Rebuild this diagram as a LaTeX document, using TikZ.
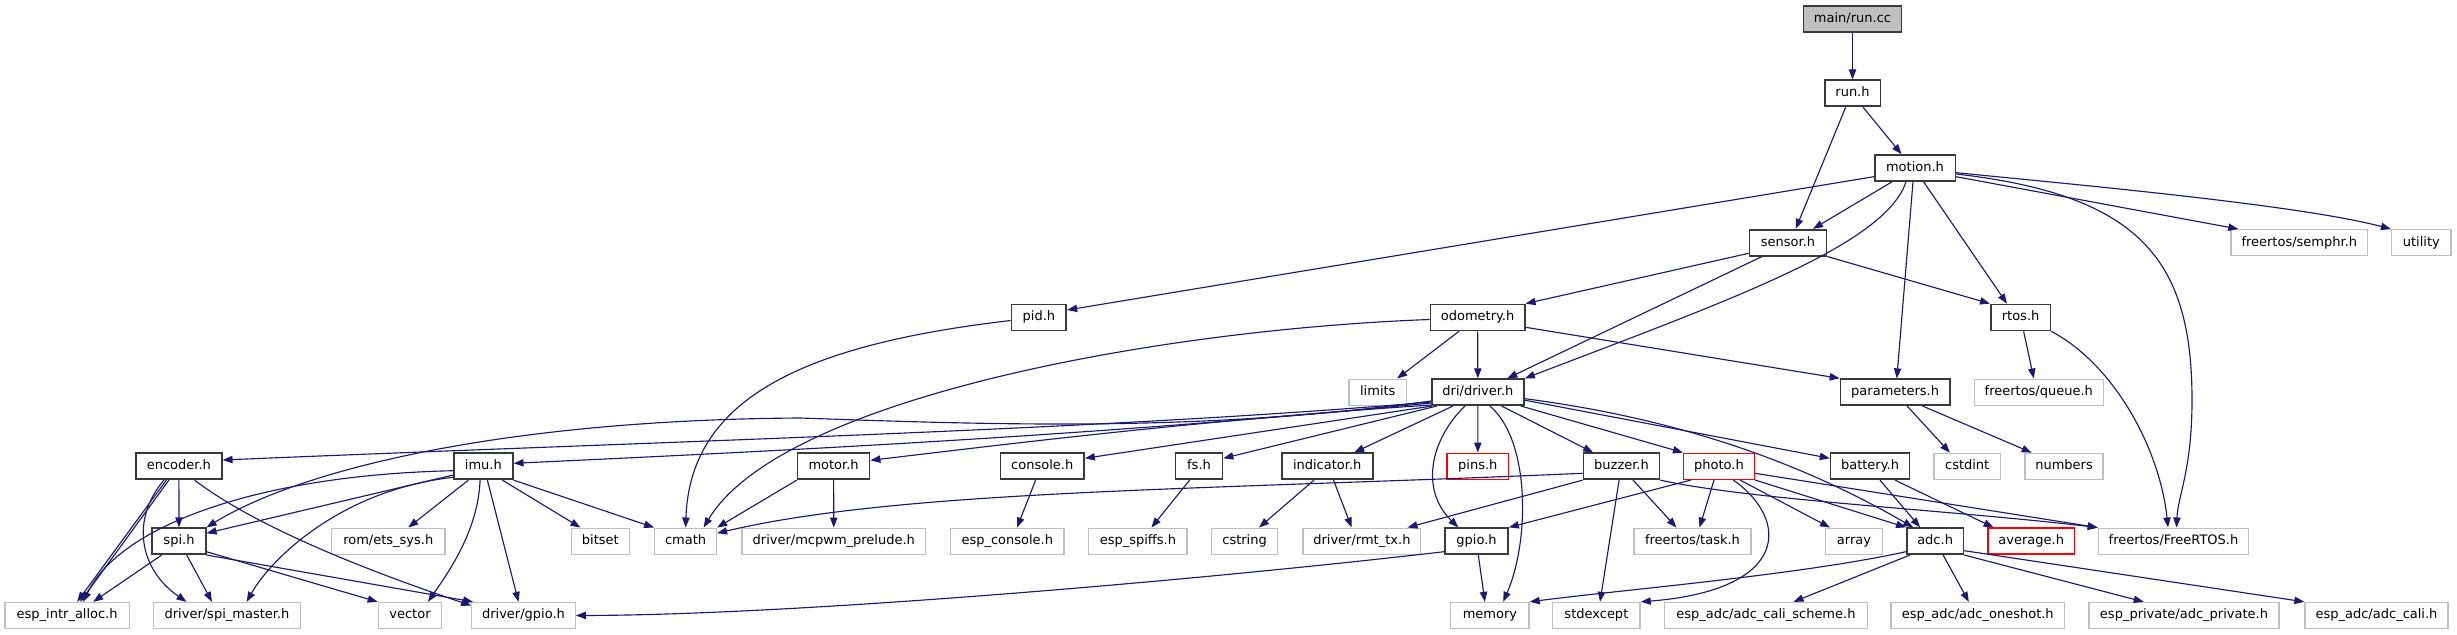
\documentclass[tikz,border=0pt]{standalone}
\usepackage{fontspec}
\setmainfont{DejaVu Sans}
\usetikzlibrary{arrows.meta,calc}
\definecolor{docc}{HTML}{3A3A3A}
\definecolor{extc}{HTML}{BFBFBF}
\definecolor{redc}{HTML}{FF0000}
\definecolor{topfill}{HTML}{BFBFBF}
\definecolor{edgec}{HTML}{191970}
\tikzset{
  nd/.style={draw, rectangle, inner sep=0pt, minimum height=19.5pt, text height=7.2pt, text depth=2.2pt, font=\fontsize{9.75}{11}\selectfont},
  doc/.style={nd, draw=docc, line width=1.25pt},
  ext/.style={nd, draw=extc, line width=1pt},
  miss/.style={nd, draw=redc, line width=1.1pt},
  topn/.style={doc, fill=topfill},
  bw/.style={minimum width=#1*0.75pt},
  ed/.style={draw=edgec, line width=0.85pt, -{Triangle[length=7.5pt,width=5.5pt]}},
}
\begin{document}
\begin{tikzpicture}[x=0.75pt,y=-0.75pt]
\useasboundingbox (0,0) rectangle (2457,635);
% rows
\def\ra{18.7}\def\rb{93.3}\def\rc{168}\def\rd{242.7}\def\re{317.5}\def\rf{392.2}\def\rg{466.3}\def\rh{541.2}\def\ri{615.5}
\node[topn,bw=98] (run) at (1852.5,\ra) {main/run.cc};
\node[doc,bw=55.7] (runh) at (1852.5,\rb) {run.h};
\node[doc,bw=80.7] (motion) at (1915,\rc) {motion.h};
\node[doc,bw=77] (sensor) at (1788,\rd) {sensor.h};
\node[ext,bw=136.6] (semphr) at (2299.3,\rd) {freertos/semphr.h};
\node[ext,bw=59.4] (utility) at (2421.3,\rd) {utility};
\node[doc,bw=54.8] (pid) at (1038.9,\re) {pid.h};
\node[doc,bw=94.2] (odom) at (1477.6,\re) {odometry.h};
\node[doc,bw=59.6] (rtos) at (2020.6,\re) {rtos.h};
\node[ext,bw=57.7] (limits) at (1377.8,\rf) {limits};
\node[doc,bw=92.3] (driver) at (1477.9,\rf) {dri/driver.h};
\node[doc,bw=109.2] (params) at (1895.1,\rf) {parameters.h};
\node[ext,bw=129] (queue) at (2038.8,\rf) {freertos/queue.h};
\node[doc,bw=85.7] (encoder) at (178.9,\rg) {encoder.h};
\node[doc,bw=58.7] (imu) at (483.4,\rg) {imu.h};
\node[doc,bw=72] (motor) at (833.6,\rg) {motor.h};
\node[doc,bw=83.7] (console) at (1042.2,\rg) {console.h};
\node[doc,bw=47] (fs) at (1199,\rg) {fs.h};
\node[doc,bw=91] (indicator) at (1327.2,\rg) {indicator.h};
\node[miss,bw=61.5] (pins) at (1477.8,\rg) {pins.h};
\node[doc,bw=76] (buzzer) at (1621.5,\rg) {buzzer.h};
\node[miss,bw=70.7] (photo) at (1719,\rg) {photo.h};
\node[doc,bw=78.8] (battery) at (1870,\rg) {battery.h};
\node[ext,bw=66.6] (cstdint) at (1967.2,\rg) {cstdint};
\node[ext,bw=78] (numbers) at (2064,\rg) {numbers};
\node[doc,bw=53.4] (spi) at (179,\rh) {spi.h};
\node[ext,bw=113.3] (ets) at (388.3,\rh) {rom/ets\_sys.h};
\node[ext,bw=57.6] (bitset) at (600.4,\rh) {bitset};
\node[ext,bw=61.7] (cmath) at (685.6,\rh) {cmath};
\node[ext,bw=183.5] (mcpwm) at (833.8,\rh) {driver/mcpwm\_prelude.h};
\node[ext,bw=113.4] (espconsole) at (1007.3,\rh) {esp\_console.h};
\node[ext,bw=98.3] (spiffs) at (1137.9,\rh) {esp\_spiffs.h};
\node[ext,bw=65.9] (cstring) at (1244.6,\rh) {cstring};
\node[ext,bw=117.8] (rmt) at (1361.9,\rh) {driver/rmt\_tx.h};
\node[doc,bw=63] (gpio) at (1476.5,\rh) {gpio.h};
\node[ext,bw=117] (task) at (1692.5,\rh) {freertos/task.h};
\node[ext,bw=56.6] (array) at (1854,\rh) {array};
\node[doc,bw=56.6] (adc) at (1935.1,\rh) {adc.h};
\node[miss,bw=86.3] (average) at (2031.2,\rh) {average.h};
\node[ext,bw=150.2] (freertos) at (2173.5,\rh) {freertos/FreeRTOS.h};
\node[ext,bw=124.3] (intr) at (67.2,\ri) {esp\_intr\_alloc.h};
\node[ext,bw=147.4] (spim) at (227,\ri) {driver/spi\_master.h};
\node[ext,bw=63.4] (vector) at (410,\ri) {vector};
\node[ext,bw=103.5] (dgpio) at (523.5,\ri) {driver/gpio.h};
\node[ext,bw=78.3] (memory) at (1489.9,\ri) {memory};
\node[ext,bw=87.3] (stdexcept) at (1596.4,\ri) {stdexcept};
\node[ext,bw=203] (calischeme) at (1765.9,\ri) {esp\_adc/adc\_cali\_scheme.h};
\node[ext,bw=173.5] (oneshot) at (1977.8,\ri) {esp\_adc/adc\_oneshot.h};
\node[ext,bw=190] (adcpriv) at (2184,\ri) {esp\_private/adc\_private.h};
\node[ext,bw=143] (adccali) at (2376.5,\ri) {esp\_adc/adc\_cali.h};
% edges: top part
\draw[ed] (run) -- (runh);
\draw[ed] ($(runh.south)+(-6.8,0)$) -- ($(sensor.north)+(7.7,0)$);
\draw[ed] ($(runh.south)+(10.5,0)$) -- ($(motion.north)+(-13.5,0)$);
\draw[ed] ($(motion.south)+(-23,0)$) -- ($(sensor.north)+(25,0)$);
\draw[ed] ($(motion.west)+(0,8.7)$) -- ($(pid.east)+(0,-7.5)$);
\draw[ed] ($(motion.south)+(-9,0)$) .. controls (1885,245) and (1730,300) .. (driver.north east);
\draw[ed] ($(motion.south)+(-2,0)$) -- ($(params.north)+(1.7,0)$);
\draw[ed] ($(motion.south)+(8.6,0)$) -- ($(rtos.north)+(-13.6,0)$);
\draw[ed] ($(motion.east)+(0,8.7)$) -- ($(semphr.north)+(-61,0)$);
\draw[ed] ($(motion.east)+(0,4.7)$) .. controls (2080,185) and (2300,205) .. (utility.north west);
\draw[ed] ($(motion.east)+(0,6)$) .. controls (2140,195) and (2192,260) .. (2192,400) .. controls (2192,470) and (2178,495) .. ($(freertos.north)+(3,0)$);
\draw[ed] ($(sensor.west)+(0,10.6)$) -- (odom.north east);
\draw[ed] ($(sensor.south)+(-26,0)$) -- ($(driver.north)+(29.4,0)$);
\draw[ed] (sensor.south east) -- (rtos.north west);
\draw[ed] ($(pid.west)+(0,3)$) .. controls (800,345) and (690,400) .. (cmath.north);
\draw[ed] ($(odom.west)+(0,2)$) .. controls (1150,330) and (780,400) .. ($(cmath.north)+(18,0)$);
\draw[ed] ($(odom.south)+(-18.6,0)$) -- ($(limits.north)+(19.3,0)$);
\draw[ed] (odom) -- (driver);
\draw[ed] ($(odom.east)+(0,9.8)$) -- (params.north west);
\draw[ed] ($(rtos.south)+(3,0)$) -- ($(queue.north)+(-5,0)$);
\draw[ed] (rtos.south east) .. controls (2115,365) and (2160,450) .. ($(freertos.north)+(-5.5,0)$);
\draw[ed] ($(params.south)+(12,0)$) -- ($(cstdint.north)+(-17.3,0)$);
\draw[ed] ($(params.south)+(27.4,0)$) -- ($(numbers.north)+(-32.3,0)$);
% driver fan-out
\draw[ed] ($(driver.south west)+(0,-4)$) .. controls (1100,430) and (700,440) .. ($(encoder.east)+(0,-6.3)$);
\draw[ed] ($(driver.south west)+(0,-3)$) .. controls (1100,435) and (800,450) .. ($(imu.east)+(0,-3)$);
\draw[ed] ($(driver.south west)+(0,-5)$) .. controls (1200,432) and (1000,425) .. (800,418) .. controls (500,420) and (300,470) .. (spi.north east);
\draw[ed] ($(driver.south west)+(0,-1)$) .. controls (1200,420) and (1000,445) .. ($(motor.east)+(0,-6)$);
\draw[ed] ($(driver.south west)+(1,0)$) -- ($(console.east)+(0,-8)$);
\draw[ed] ($(driver.south west)+(6,0)$) -- ($(fs.east)+(0,-8)$);
\draw[ed] ($(driver.south west)+(22,0)$) -- ($(indicator.north)+(27,0)$);
\draw[ed] ($(driver.south)+(-13,0)$) .. controls (1430,440) and (1420,490) .. ($(gpio.north)+(-18.2,0)$);
\draw[ed] (driver) -- (pins);
\draw[ed] ($(driver.south)+(12,0)$) .. controls (1530,440) and (1530,540) .. ($(memory.north)+(13.3,0)$);
\draw[ed] ($(driver.south)+(23.7,0)$) -- ($(buzzer.north)+(-28.4,0)$);
\draw[ed] ($(driver.south east)+(-4,0)$) -- (photo.north west);
\draw[ed] ($(driver.east)+(0,8)$) -- ($(battery.west)+(0,-8)$);
\draw[ed] ($(driver.east)+(0,6.5)$) .. controls (1650,415) and (1780,450) .. ($(adc.north)+(-22,0)$);
% encoder
\draw[ed] (encoder) -- (spi);
\draw[ed] ($(encoder.south)+(-12.5,0)$) -- ($(intr.north)+(10,0)$);
\draw[ed] ($(encoder.south)+(-10,0)$) -- ($(intr.north)+(13,0)$);
\draw[ed] ($(encoder.south)+(-15,0)$) .. controls (130,520) and (140,570) .. ($(spim.north)+(-40.5,0)$);
\draw[ed] ($(encoder.south)+(15.7,0)$) .. controls (260,530) and (380,575) .. ($(dgpio.west)+(0,-10)$);
% imu
\draw[ed] ($(imu.west)+(0,8.7)$) -- ($(spi.east)+(0,-8)$);
\draw[ed] ($(imu.west)+(0,4.4)$) .. controls (260,475) and (120,525) .. ($(intr.north)+(16,0)$);
\draw[ed] ($(imu.west)+(0,11)$) .. controls (340,490) and (270,560) .. ($(spim.north)+(19.7,0)$);
\draw[ed] ($(imu.south)+(-15,0)$) -- ($(ets.north)+(20,0)$);
\draw[ed] ($(imu.south)+(-3.3,0)$) .. controls (478,530) and (450,570) .. ($(vector.north)+(18,0)$);
\draw[ed] ($(imu.south)+(4,0)$) -- ($(dgpio.north)+(-5,0)$);
\draw[ed] ($(imu.south)+(19,0)$) -- ($(bitset.north)+(-20,0)$);
\draw[ed] (imu.south east) -- (cmath.north west);
% spi
\draw[ed] ($(spi.south)+(-17.3,0)$) -- ($(intr.north)+(26,0)$);
\draw[ed] ($(spi.south)+(7.7,0)$) -- ($(spim.north)+(-15,0)$);
\draw[ed] ($(spi.east)+(0,10.5)$) -- (vector.north west);
\draw[ed] (spi.south east) -- ($(dgpio.north west)+(2,0)$);
% motor, console, fs, indicator
\draw[ed] (motor.south west) -- (cmath.north east);
\draw[ed] (motor) -- (mcpwm);
\draw[ed] ($(console.south)+(-6.6,0)$) -- ($(espconsole.north)+(9.7,0)$);
\draw[ed] ($(fs.south)+(-9.4,0)$) -- ($(spiffs.north)+(13.5,0)$);
\draw[ed] ($(indicator.south)+(-13.2,0)$) -- ($(cstring.north)+(14.4,0)$);
\draw[ed] ($(indicator.south)+(6.3,0)$) -- ($(rmt.north)+(-10.2,0)$);
% buzzer
\draw[ed] ($(buzzer.west)+(0,7)$) .. controls (1200,490) and (900,490) .. ($(cmath.east)+(0,-8)$);
\draw[ed] (buzzer.south west) -- ($(rmt.north east)+(-14,0)$);
\draw[ed] ($(buzzer.south)+(-2.4,0)$) -- ($(stdexcept.north)+(3.6,0)$);
\draw[ed] ($(buzzer.south)+(11.6,0)$) -- ($(task.north)+(-16,0)$);
\draw[ed] (buzzer.south east) .. controls (1750,500) and (1950,510) .. (freertos.north west);
% photo
\draw[ed] ($(photo.east)+(0,7)$) -- (freertos.north west);
\draw[ed] ($(photo.south west)+(8,0)$) -- (gpio.north east);
\draw[ed] ($(photo.south)+(-5,0)$) -- ($(task.north)+(7,0)$);
\draw[ed] ($(photo.south)+(14.3,0)$) .. controls (1790,520) and (1790,590) .. (stdexcept.north east);
\draw[ed] ($(photo.south)+(21,0)$) -- ($(array.north)+(-24,0)$);
\draw[ed] (photo.south east) -- (adc.north west);
% battery
\draw[ed] ($(battery.south)+(10,0)$) -- ($(adc.north)+(-15,0)$);
\draw[ed] ($(battery.south)+(25,0)$) -- ($(average.north)+(-37.6,0)$);
% adc
\draw[ed] ($(adc.west)+(0,10.5)$) .. controls (1800,575) and (1620,590) .. (memory.north east);
\draw[ed] ($(adc.south west)+(4,0)$) -- ($(calischeme.north)+(27.6,0)$);
\draw[ed] ($(adc.south)+(8,0)$) -- ($(oneshot.north)+(-9,0)$);
\draw[ed] (adc.south east) -- ($(adcpriv.north)+(-40.3,0)$);
\draw[ed] ($(adc.east)+(0,9.5)$) -- (adccali.north west);
% gpio
\draw[ed] ($(gpio.south)+(1.8,0)$) -- ($(memory.north)+(-5,0)$);
\draw[ed] ($(gpio.west)+(0,10.5)$) .. controls (1200,580) and (800,615) .. (dgpio.east);
\end{tikzpicture}
\end{document}
